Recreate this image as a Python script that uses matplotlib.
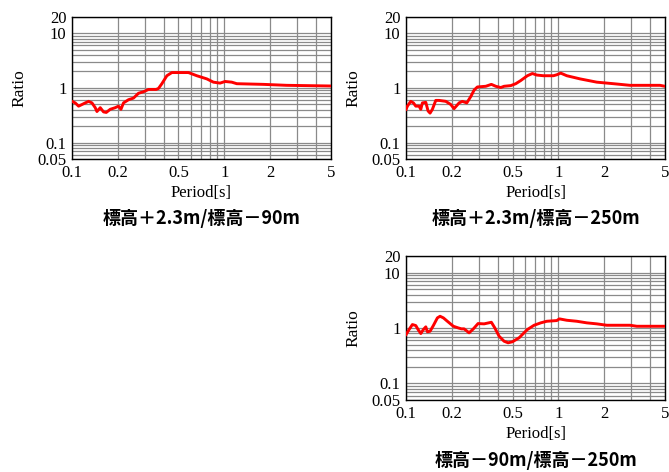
import numpy as np
import matplotlib
matplotlib.use("Agg")
import matplotlib.pyplot as plt
from matplotlib.ticker import LogLocator, NullFormatter, FixedLocator, FixedFormatter

plt.rcParams['font.family'] = ['Liberation Serif', 'DejaVu Serif']

# period [s] and spectral ratio for each panel
period_a = [0.100, 0.105, 0.1105, 0.1163, 0.1222, 0.1285, 0.1352, 0.1421, 0.1458, 0.1533,
            0.1611, 0.1678, 0.1782, 0.1921, 0.2020, 0.2095, 0.2178, 0.2349, 0.2533, 0.2732,
            0.2945, 0.3177, 0.3567, 0.3693, 0.3889, 0.4195, 0.4522, 0.5808, 0.6594, 0.767,
            0.8471, 0.9371, 1.011, 1.118, 1.206, 1.802, 2.564, 5.0]
ratio_a = [0.568, 0.532, 0.464, 0.497, 0.532, 0.568, 0.532, 0.435, 0.370, 0.435,
           0.364, 0.356, 0.406, 0.435, 0.464, 0.406, 0.532, 0.608, 0.652, 0.798,
           0.851, 0.937, 0.937, 0.976, 1.194, 1.67, 1.909, 1.909, 1.67, 1.462,
           1.274, 1.224, 1.311, 1.274, 1.194, 1.161, 1.115, 1.084]

period_b = [0.100, 0.102, 0.1073, 0.1117, 0.1158, 0.1217, 0.1249, 0.128, 0.1347, 0.1394,
            0.1437, 0.1488, 0.1566, 0.1646, 0.1822, 0.1965, 0.2065, 0.2228, 0.234, 0.2502,
            0.2658, 0.2794, 0.2937, 0.3334, 0.3628, 0.3878, 0.4182, 0.4395, 0.4864, 0.5246,
            0.5657, 0.6251, 0.6742, 0.7206, 0.7962, 0.9259, 0.9746, 1.035, 1.134, 1.386,
            1.784, 2.293, 2.95, 4.64, 5.0]
ratio_b = [0.406, 0.464, 0.568, 0.532, 0.464, 0.464, 0.406, 0.532, 0.545, 0.379,
           0.346, 0.406, 0.591, 0.591, 0.568, 0.497, 0.418, 0.532, 0.568, 0.532,
           0.695, 0.911, 1.041, 1.071, 1.161, 1.071, 1.016, 1.071, 1.102, 1.194,
           1.365, 1.67, 1.833, 1.718, 1.67, 1.67, 1.739, 1.863, 1.67, 1.462,
           1.274, 1.194, 1.115, 1.115, 1.071]

period_c = [0.100, 0.1046, 0.110, 0.1158, 0.1199, 0.1249, 0.1299, 0.1347, 0.138, 0.1437,
            0.151, 0.1605, 0.1671, 0.1757, 0.1866, 0.2043, 0.2193, 0.2306, 0.2403, 0.2591,
            0.2764, 0.2967, 0.325, 0.3628, 0.382, 0.4077, 0.4395, 0.467, 0.4983, 0.5514,
            0.6251, 0.6918, 0.7654, 0.8379, 0.9746, 1.014, 1.134, 1.319, 1.534, 1.784,
            2.075, 2.95, 3.266, 5.0]
ratio_c = [0.764, 0.94, 1.156, 1.109, 0.94, 0.796, 0.94, 1.051, 0.854, 0.876,
           1.109, 1.527, 1.632, 1.527, 1.326, 1.077, 1.008, 0.967, 0.967, 0.819,
           0.967, 1.205, 1.19, 1.272, 1.008, 0.712, 0.578, 0.541, 0.564, 0.666,
           0.94, 1.123, 1.241, 1.326, 1.365, 1.465, 1.382, 1.326, 1.241, 1.19,
           1.123, 1.123, 1.077, 1.077]

titles = ['標高＋2.3m/標高－90m', '標高＋2.3m/標高－250m', '標高－90m/標高－250m']

xticks = [0.1, 0.2, 0.5, 1, 2, 5]
xlabels = ['0.1', '0.2', '0.5', '1', '2', '5']
yticks = [0.05, 0.1, 1, 10, 20]
ylabels = ['0.05', '0.1', '1', '10', '20']

fig = plt.figure(figsize=(6.69, 4.72), dpi=100)

boxes = [[0.1076, 0.663, 0.387, 0.3015],
         [0.607, 0.663, 0.387, 0.3015],
         [0.607, 0.1525, 0.387, 0.305]]
title_y = [-0.415, -0.415, -0.42]
data = [(period_a, ratio_a), (period_b, ratio_b), (period_c, ratio_c)]

for box, (px, ry), title, ty in zip(boxes, data, titles, title_y):
    ax = fig.add_axes(box)
    ax.set_xscale('log')
    ax.set_yscale('log')
    ax.set_xlim(0.1, 5)
    ax.set_ylim(0.05, 20)

    ax.xaxis.set_major_locator(FixedLocator(xticks))
    ax.xaxis.set_major_formatter(FixedFormatter(xlabels))
    ax.xaxis.set_minor_locator(LogLocator(base=10, subs=np.arange(1, 10)))
    ax.xaxis.set_minor_formatter(NullFormatter())
    ax.yaxis.set_major_locator(FixedLocator(yticks))
    ax.yaxis.set_major_formatter(FixedFormatter(ylabels))
    ax.yaxis.set_minor_locator(LogLocator(base=10, subs=np.arange(1, 10)))
    ax.yaxis.set_minor_formatter(NullFormatter())

    ax.grid(which='both', color='#8a8a8a', linewidth=0.9)
    ax.tick_params(which='both', length=0, labelsize=12, pad=4)
    for sp in ax.spines.values():
        sp.set_color('black')
        sp.set_linewidth(1.0)

    ax.plot(px, ry, color='#ff0000', linewidth=2.1, zorder=3)

    ax.set_xlabel('Period[s]', fontsize=12, labelpad=3)
    ax.set_ylabel('Ratio', fontsize=12.5, labelpad=7)
    ax.text(0.5, ty, title, transform=ax.transAxes, ha='center', va='center',
            fontsize=13, fontweight='bold',
            family=['Noto Sans CJK JP', 'DejaVu Sans'])

fig.savefig('out.png', dpi=100)
